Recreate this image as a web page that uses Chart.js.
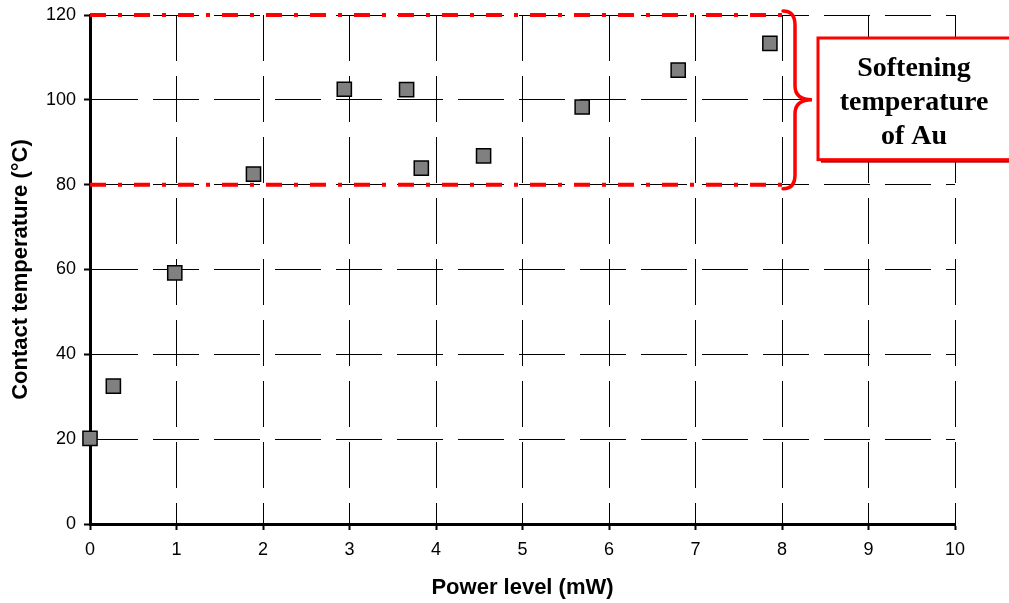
<!DOCTYPE html>
<html>
<head>
<meta charset="utf-8">
<script src="https://cdn.jsdelivr.net/npm/chart.js@4"></script>
<style>
  body { margin: 0; background: #fff; }
  canvas { display: block; }
</style>
</head>
<body>
<canvas id="tempChart" width="1009" height="603"></canvas>
<script>
// measured points (power in mW, temperature in degC)
const powerLevel = [0, 0.27, 0.98, 1.89, 2.94, 3.66, 3.83, 4.55, 5.69, 6.80, 7.86];
const contactTemp = [20.2, 32.5, 59.2, 82.5, 102.5, 102.4, 83.9, 86.8, 98.3, 107.0, 113.3];

// softening range of Au
const bandX = [0, 8];
const bandLow = [80, 80];
const bandHigh = [120, 120];
const bandLabel = ['Softening', 'temperature', 'of Au'];

const xTitle = 'Power level (mW)';
const yTitle = 'Contact temperature (°C)';

const sansFont = 'Arial, "Liberation Sans", sans-serif';

// brace + text box on the right
const braceBox = {
    id: 'braceBox',
    afterDatasetsDraw(chart) {
        const ctx = chart.ctx;
        const xs = chart.scales.x, ys = chart.scales.y;
        const bx = xs.getPixelForValue(bandX[1]);
        const yTop = ys.getPixelForValue(bandHigh[0]);
        const yBot = ys.getPixelForValue(bandLow[0]);
        const yMid = (yTop + yBot) / 2;

        ctx.save();
        ctx.strokeStyle = '#ff0000';
        ctx.lineWidth = 3.5;
        ctx.lineCap = 'round';
        const x0 = bx + 1, x1 = bx + 13, x2 = bx + 30;
        const t = yTop - 4, b = yBot + 4;
        ctx.beginPath();
        ctx.moveTo(x0, t);
        ctx.quadraticCurveTo(x1, t, x1, t + 14);
        ctx.lineTo(x1, yMid - 14);
        ctx.quadraticCurveTo(x1, yMid, x2, yMid);
        ctx.quadraticCurveTo(x1, yMid, x1, yMid + 14);
        ctx.lineTo(x1, b - 14);
        ctx.quadraticCurveTo(x1, b, x0, b);
        ctx.stroke();

        // box
        const left = bx + 36, top = yTop + 23, bottom = yBot - 25;
        const right = chart.width + 10;
        ctx.fillStyle = '#b00000';
        ctx.fillRect(left + 3, top + 3, right - left, bottom - top);
        ctx.fillStyle = '#ffffff';
        ctx.fillRect(left, top, right - left, bottom - top);
        ctx.lineWidth = 3;
        ctx.strokeStyle = '#ff0000';
        ctx.strokeRect(left, top, right - left, bottom - top);

        ctx.fillStyle = '#000';
        ctx.font = 'bold 28px "Liberation Serif", "Times New Roman", serif';
        ctx.textAlign = 'center';
        ctx.textBaseline = 'alphabetic';
        const cx = left + 96;
        const lineH = 34;
        const base0 = yMid - 24;
        bandLabel.forEach((s, i) => ctx.fillText(s, cx, base0 + i * lineH));
        ctx.restore();
    }
};

const ctx = document.getElementById('tempChart').getContext('2d');
const chart = new Chart(ctx, {
    type: 'scatter',
    data: {
        datasets: [
            {
                label: 'Contact temperature',
                data: powerLevel.map((p, i) => ({ x: p, y: contactTemp[i] })),
                pointStyle: 'rect',
                pointRadius: 10,
                pointHoverRadius: 10,
                backgroundColor: '#808080',
                borderColor: '#000000',
                borderWidth: 1.5,
                clip: false,
                order: 0
            },
            {
                type: 'line',
                data: bandX.map((x, i) => ({ x: x, y: bandHigh[i] })),
                borderColor: '#ff0000',
                borderWidth: 4,
                borderDash: [16, 12, 4, 12],
                pointRadius: 0,
                fill: false,
                clip: false,
                order: 1
            },
            {
                type: 'line',
                data: bandX.map((x, i) => ({ x: x, y: bandLow[i] })),
                borderColor: '#ff0000',
                borderWidth: 4,
                borderDash: [16, 12, 4, 12],
                pointRadius: 0,
                fill: false,
                clip: false,
                order: 1
            }
        ]
    },
    options: {
        responsive: false,
        animation: false,
        layout: { padding: { top: 15, right: 54, left: 0, bottom: 0 } },
        plugins: {
            legend: { display: false },
            tooltip: { enabled: false }
        },
        scales: {
            x: {
                type: 'linear',
                min: 0,
                max: 10,
                afterFit: (s) => { s.height = 79; s.paddingLeft = 0; s.paddingRight = 0; },
                ticks: {
                    stepSize: 1,
                    color: '#000',
                    padding: 9,
                    font: { family: sansFont, size: 18 }
                },
                grid: {
                    color: '#000',
                    lineWidth: 1,
                    tickLength: 6,
                    tickColor: '#000',
                    tickWidth: 2
                },
                border: { color: '#000', width: 3, dash: [46, 15] },
                title: {
                    display: true,
                    text: xTitle,
                    color: '#000',
                    padding: { top: 0, bottom: 2 },
                    font: { family: sansFont, size: 22, weight: 'bold' }
                }
            },
            y: {
                min: 0,
                max: 120,
                afterFit: (s) => { s.width = 90; s.paddingTop = 0; s.paddingBottom = 0; },
                ticks: {
                    stepSize: 20,
                    color: '#000',
                    padding: 8,
                    font: { family: sansFont, size: 18 }
                },
                grid: {
                    color: '#000',
                    lineWidth: 1,
                    tickLength: 6,
                    tickColor: '#000',
                    tickWidth: 2
                },
                border: { color: '#000', width: 3, dash: [46, 15] },
                title: {
                    display: true,
                    text: yTitle,
                    color: '#000',
                    padding: { top: 8, bottom: 0 },
                    font: { family: sansFont, size: 22, weight: 'bold' }
                }
            }
        }
    },
    plugins: [braceBox]
});
</script>
</body>
</html>
